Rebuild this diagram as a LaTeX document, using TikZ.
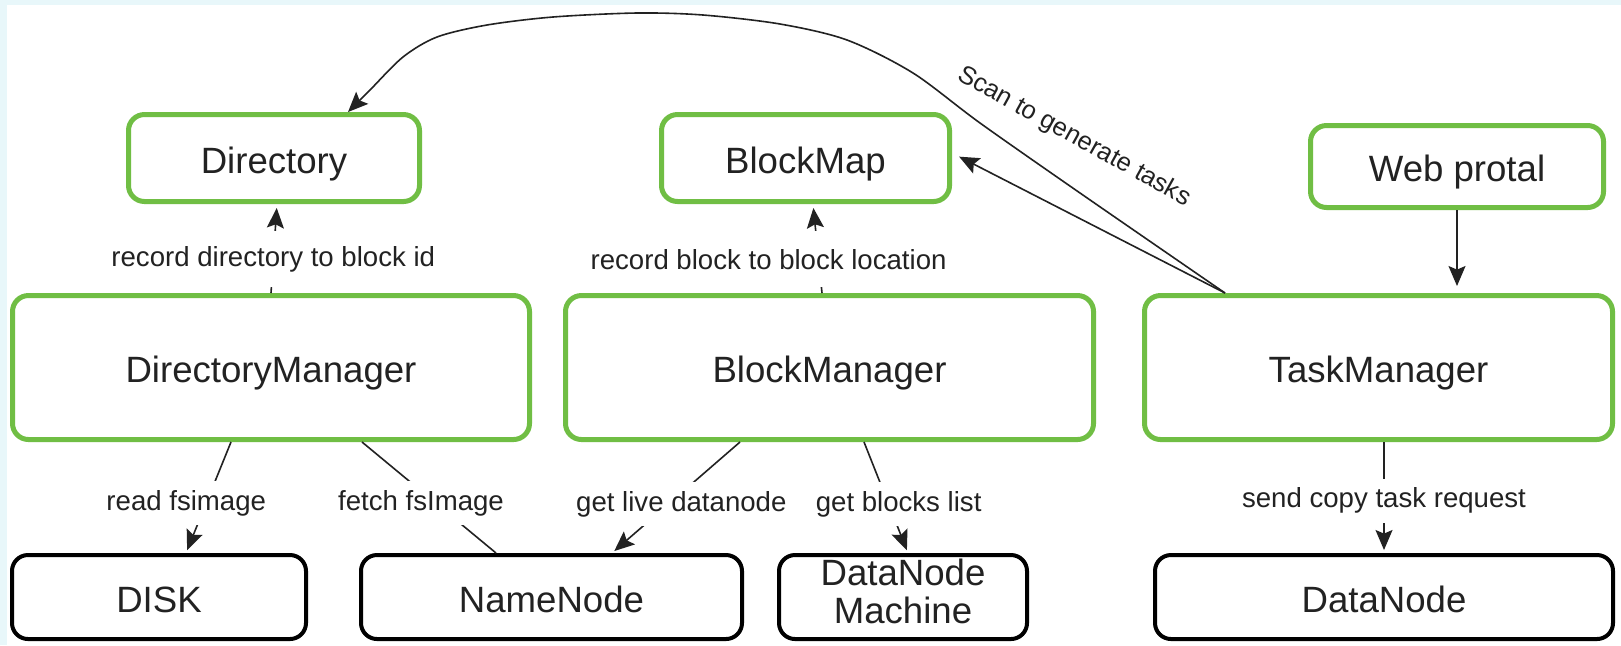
\documentclass[tikz,border=0pt]{standalone}
\usepackage{fontspec}
\setmainfont{Liberation Sans}
\usetikzlibrary{arrows.meta,calc}
\definecolor{pagecyan}{RGB}{232,247,250}
\definecolor{boxgreen}{RGB}{112,190,68}
\definecolor{inkgray}{RGB}{34,34,34}

\begin{document}
\begin{tikzpicture}[x=0.5pt,y=-0.5pt,
  gbox/.style={draw=boxgreen, line width=2.5pt, rounded corners=8pt, fill=white,
    font=\fontsize{18.3pt}{22pt}\selectfont, text=inkgray, inner sep=0pt,
    text height=15.2pt, text depth=0pt},
  kbox/.style={draw=black, line width=2pt, rounded corners=8pt, fill=white,
    font=\fontsize{18.3pt}{19pt}\selectfont, text=inkgray, inner sep=0pt},
  elbl/.style={fill=white, font=\fontsize{13.8pt}{16pt}\selectfont, text=inkgray,
    inner xsep=3pt, inner ysep=0pt, minimum height=22pt},
  conn/.style={draw=inkgray, line width=0.8pt},
  arr/.style={conn, -{Stealth[length=10pt,width=8.5pt,inset=1.8pt]}}]

% page background
\fill[pagecyan] (0,0) rectangle (1621,645);
\fill[white] (7,5) rectangle (1621,645);
\useasboundingbox (0,0) rectangle (1621,645);

% upper row
\node[gbox, minimum width=145.5pt, minimum height=43.5pt] (dir)  at (274,158)   {Directory};
\node[gbox, minimum width=144pt,   minimum height=43.5pt] (bmap) at (805.5,158) {BlockMap};
\node[gbox, minimum width=146.5pt, minimum height=41pt]   (wp)   at (1457,166.5) {Web protal};

% managers
\node[gbox, minimum width=258.5pt, minimum height=72pt] (dm) at (271,367.5)    {DirectoryManager};
\node[gbox, minimum width=264pt,   minimum height=72pt] (bm) at (829.5,367.5)  {BlockManager};
\node[gbox, minimum width=234pt,   minimum height=72pt] (tm) at (1378.5,367.5) {TaskManager};

% lower row
\node[kbox, text height=15.2pt, text depth=0pt, minimum width=147pt, minimum height=42pt]
  (disk) at (159,597) {DISK};
\node[kbox, text height=15.2pt, text depth=0pt, minimum width=190.5pt, minimum height=42pt]
  (nn) at (551.5,597) {NameNode};
\node[kbox, minimum width=124pt, minimum height=42pt] (dnm) at (903,597)
  {\raisebox{-2pt}{\begin{tabular}{@{}c@{}}DataNode\\Machine\end{tabular}}};
\node[kbox, text height=15.2pt, text depth=0pt, minimum width=229pt, minimum height=42pt]
  (dn) at (1384,597) {DataNode};

% managers to their maps
\draw[arr, shorten >=2pt] (dm.north) -- ([xshift=1.5pt]dir.south)
  node[elbl, minimum height=28pt, pos=0.38] (l1) {record directory to block id};
\draw[arr, shorten >=2pt] ([xshift=-3.75pt]bm.north) -- ([xshift=3.75pt]bmap.south)
  node[elbl, minimum height=28pt, pos=0.38, xshift=-25pt] (l2) {record block to block location};

% task manager scans
\coordinate (tmsrc) at ([xshift=41.5pt]tm.north west);
\draw[arr, shorten >=4pt] (tmsrc) -- ([yshift=2.5pt]bmap.east);
\draw[arr] plot[smooth] coordinates {(tmsrc) (1080,193) (980,123) (913,73) (847,40)
  (780,24) (703,15) (637,13) (553,17) (487,25) (437,37) (403,57) (370,90)
  ([xshift=37pt]dir.north)};
\node[font=\fontsize{12.8pt}{15pt}\selectfont, text=inkgray, rotate=-29, inner sep=0pt]
  (scanlbl) at (1074,137) {Scan to generate tasks};

% portal request
\draw[arr, shorten >=3.5pt] (wp.south) -- (wp.south |- tm.north);

% managers to machines
\draw[arr, shorten >=1.5pt] ([xshift=-20pt]dm.south) -- ([xshift=13.5pt]disk.north)
  node[elbl, pos=0.55, xshift=-10pt] (l3) {read fsimage};
\draw[conn] ([xshift=45.5pt]dm.south) -- ([xshift=-27.75pt]nn.north)
  node[elbl, pos=0.55, xshift=-7.35pt] (l4) {fetch fsImage};
\draw[arr, shorten >=1.5pt] ([xshift=-44.75pt]bm.south) -- ([xshift=30.25pt]nn.north)
  node[elbl, pos=0.56, xshift=6.5pt] (l5) {get live datanode};
\draw[arr, shorten >=1.5pt] ([xshift=17.25pt]bm.south) -- ([xshift=2.5pt]dnm.north)
  node[elbl, pos=0.56, xshift=5pt] (l6) {get blocks list};
\draw[arr, shorten >=1.5pt] (tm.south -| dn.north) -- (dn.north)
  node[elbl, pos=0.53] (l7) {send copy task request};
\end{tikzpicture}
\end{document}
